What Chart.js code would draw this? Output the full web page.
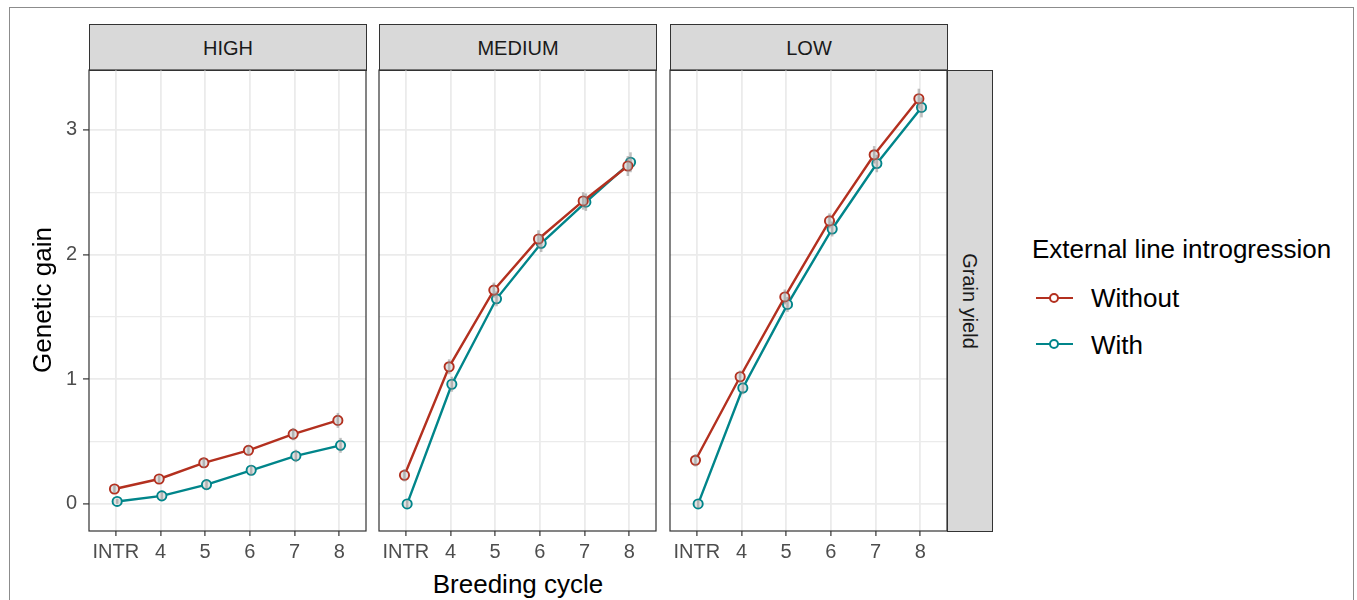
<!DOCTYPE html>
<html>
<head>
<meta charset="utf-8">
<title>Genetic gain by breeding cycle</title>
<script src="https://cdn.jsdelivr.net/npm/chart.js@4.4.1/dist/chart.umd.min.js"></script>
<style>
  body { margin: 0; background: #fff; font-family: "Liberation Sans", Arial, sans-serif; }
  #page { position: relative; width: 1357px; height: 600px; overflow: hidden; background: #fff; }
  .frame { position: absolute; left: 9px; top: 7px; width: 1345px; height: 640px; border: 1px solid #8c8c8c; box-sizing: border-box; }
  .strip { position: absolute; background: #d9d9d9; border: 1px solid #333; box-sizing: border-box;
           display: flex; align-items: center; justify-content: center; color: #1a1a1a; font-size: 20px; line-height: 20px; }
  .strip.top { top: 24px; height: 47px; width: 278px; padding-top: 1px; }
  .strip.side { left: 947px; top: 70px; width: 46px; height: 462px; }
  .strip.side span { display: block; white-space: nowrap; transform: rotate(90deg); }
  .panel { position: absolute; top: 68px; }
  .txt { position: absolute; white-space: nowrap; color: #000; font-size: 26px; line-height: 26px; }
  .key { position: absolute; left: 1036px; width: 37px; height: 2px; }
  .key i { position: absolute; left: 13px; top: -4px; width: 6px; height: 6px; border-radius: 50%;
           border: 2px solid; background: #fff; }
</style>
</head>
<body>
<div id="page">
  <div class="frame"></div>

  <div class="strip top" style="left:89px">HIGH</div>
  <div class="strip top" style="left:379px">MEDIUM</div>
  <div class="strip top" style="left:670px">LOW</div>
  <div class="strip side"><span>Grain yield</span></div>

  <div class="panel" id="p0"><canvas id="c0"></canvas></div>
  <div class="panel" id="p1"><canvas id="c1"></canvas></div>
  <div class="panel" id="p2"><canvas id="c2"></canvas></div>

  <div class="txt" style="left:-58px; top:287px; width:200px; text-align:center; transform:rotate(-90deg)">Genetic gain</div>
  <div class="txt" style="left:418px; top:571px; width:200px; text-align:center">Breeding cycle</div>

  <div class="txt" style="left:1032px; top:236px">External line introgression</div>
  <div class="key" style="top:297px; background:#b3301f"><i style="border-color:#b3301f"></i></div>
  <div class="txt" style="left:1091px; top:285px">Without</div>
  <div class="key" style="top:343px; background:#00858a"><i style="border-color:#00858a"></i></div>
  <div class="txt" style="left:1091px; top:332px">With</div>
</div>

<script>
// breeding cycles on the x axis
const cycles = ['INTR', '4', '5', '6', '7', '8'];
const seriesNames = ['Without', 'With'];
const seriesColors = ['#b3301f', '#00858a'];

// y ticks: labelled majors and unlabelled minors
const yMajor = [0, 1, 2, 3];
const yMinor = [0.5, 1.5, 2.5];

// genetic gain, grain yield, per selection intensity
const highWithout   = [0.12, 0.20, 0.33, 0.43, 0.56, 0.67];
const highWith      = [0.02, 0.065, 0.155, 0.27, 0.385, 0.47];
const mediumWithout = [0.23, 1.10, 1.715, 2.125, 2.43, 2.71];
const mediumWith    = [0.00, 0.96, 1.645, 2.09, 2.42, 2.74];
const lowWithout    = [0.35, 1.02, 1.66, 2.27, 2.80, 3.25];
const lowWith       = [0.00, 0.93, 1.60, 2.205, 2.73, 3.18];

// standard errors (grey bars)
const highWithoutErr   = [0.03, 0.03, 0.04, 0.04, 0.05, 0.06];
const highWithErr      = [0.02, 0.03, 0.04, 0.04, 0.05, 0.06];
const mediumWithoutErr = [0.05, 0.06, 0.06, 0.07, 0.07, 0.08];
const mediumWithErr    = [0.03, 0.06, 0.06, 0.07, 0.07, 0.08];
const lowWithoutErr    = [0.05, 0.05, 0.06, 0.06, 0.07, 0.08];
const lowWithErr       = [0.03, 0.05, 0.06, 0.06, 0.07, 0.08];

const panels = [
  { id: 0, left: 89,  values: [highWithout, highWith],     errs: [highWithoutErr, highWithErr] },
  { id: 1, left: 379, values: [mediumWithout, mediumWith], errs: [mediumWithoutErr, mediumWithErr] },
  { id: 2, left: 670, values: [lowWithout, lowWith],       errs: [lowWithoutErr, lowWithErr] },
];

const PANEL_W = 277, PANEL_H = 461, X_AXIS_H = 32, PAD = 2;
const Y_MIN = -0.217, Y_MAX = 3.48;
const DODGE = 0.03;
const tickFont = { family: 'Liberation Sans', size: 20 };

// stop Chart.js from reserving room for overhanging tick labels
function noLabelPadding(s) {
  s.paddingTop = 0; s.paddingBottom = 0; s.paddingLeft = 0; s.paddingRight = 0;
}

// panel border, drawn over the grid
const panelBorder = {
  id: 'panelBorder',
  beforeDatasetsDraw(chart) {
    const a = chart.chartArea, ctx = chart.ctx;
    ctx.save();
    ctx.strokeStyle = '#333';
    ctx.lineWidth = 1.2;
    ctx.strokeRect(a.left, a.top, a.right - a.left, a.bottom - a.top);
    ctx.restore();
  }
};

// vertical error bars from the err arrays
const errorBars = {
  id: 'errorBars',
  afterDatasetsDraw(chart) {
    const ctx = chart.ctx, y = chart.scales.y;
    ctx.save();
    ctx.strokeStyle = 'rgba(140,140,140,0.55)';
    ctx.lineWidth = 2.5;
    chart.data.datasets.forEach((ds, di) => {
      chart.getDatasetMeta(di).data.forEach((pt, i) => {
        const v = ds.data[i].y, e = ds.errs[i];
        ctx.beginPath();
        ctx.moveTo(pt.x, y.getPixelForValue(v - e));
        ctx.lineTo(pt.x, y.getPixelForValue(v + e));
        ctx.stroke();
      });
    });
    ctx.restore();
  }
};

panels.forEach(p => {
  const first = p.id === 0;
  const axisW = first ? 80 : 0;
  const wrap = document.getElementById('p' + p.id);
  const canvas = document.getElementById('c' + p.id);
  const w = axisW + PANEL_W + PAD * 2, h = PANEL_H + X_AXIS_H + PAD;
  wrap.style.left = (p.left - axisW - PAD) + 'px';
  canvas.width = w; canvas.height = h;
  canvas.style.width = w + 'px'; canvas.style.height = h + 'px';

  const datasets = p.values.map((vals, s) => ({
    label: seriesNames[s],
    data: vals.map((v, i) => ({ x: i + (s === 0 ? -DODGE : DODGE), y: v })),
    errs: p.errs[s],
    borderColor: seriesColors[s],
    borderWidth: 2.4,
    pointRadius: 4.6,
    pointBorderWidth: 1.9,
    pointBorderColor: seriesColors[s],
    pointBackgroundColor: '#e2e2e2',
    tension: 0,
  }));

  new Chart(canvas, {
    type: 'line',
    data: { datasets },
    plugins: [panelBorder, errorBars],
    options: {
      responsive: false,
      animation: false,
      events: [],
      layout: { autoPadding: false, padding: { top: PAD, right: PAD, left: PAD, bottom: 0 } },
      plugins: { legend: { display: false }, tooltip: { enabled: false } },
      scales: {
        x: {
          type: 'linear',
          min: -0.6,
          max: cycles.length - 0.4,
          afterBuildTicks: s => { s.ticks = cycles.map((c, i) => ({ value: i })); },
          afterFit: s => { s.height = X_AXIS_H; noLabelPadding(s); },
          border: { display: false },
          grid: { color: '#ebebeb', lineWidth: 1.8, tickColor: '#333', tickWidth: 1.2, tickLength: 5 },
          ticks: {
            autoSkip: false, maxRotation: 0, padding: 4,
            color: '#4d4d4d', font: tickFont,
            callback: v => cycles[Math.round(v)]
          }
        },
        y: {
          min: Y_MIN,
          max: Y_MAX,
          afterBuildTicks: s => {
            s.ticks = yMajor.concat(yMinor).sort((a, b) => a - b).map(v => ({ value: v }));
          },
          afterFit: s => { s.width = axisW; noLabelPadding(s); },
          border: { display: false },
          grid: {
            color: '#ebebeb',
            lineWidth: c => yMajor.includes(c.tick.value) ? 1.8 : 1.2,
            drawTicks: first,
            tickLength: 6,
            tickWidth: 1.2,
            tickColor: c => yMajor.includes(c.tick.value) ? '#333' : 'rgba(0,0,0,0)'
          },
          ticks: {
            display: first, padding: 6,
            color: '#4d4d4d', font: tickFont,
            callback: v => yMajor.includes(v) ? String(v) : ''
          }
        }
      }
    }
  });
});
</script>
</body>
</html>
